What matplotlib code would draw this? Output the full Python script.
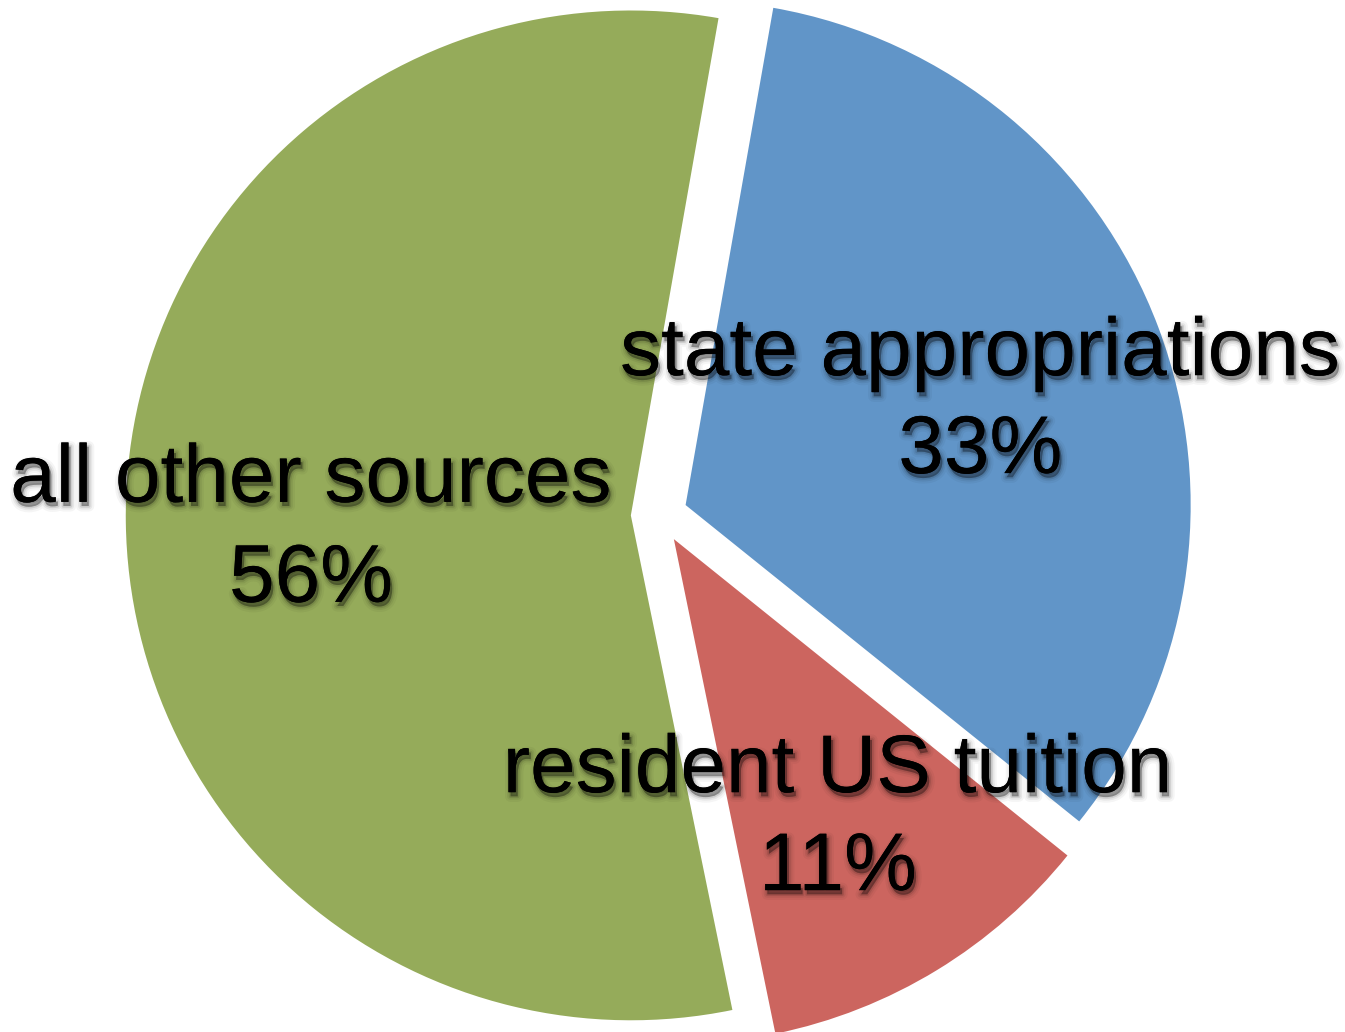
import matplotlib
matplotlib.use("Agg")
import matplotlib.pyplot as plt
import matplotlib.patheffects as pe

# Data
labels = ['state appropriations', 'resident US tuition', 'all other sources']
shares = [33, 11, 56]
colors = ['#6195C8', '#CC655F', '#95AB5A']

# label anchor points (data coords, radius = 1) for name line and percent line
label_xy = [(0.636, 0.277, 0.083), (0.354, -0.549, -0.743), (-0.689, 0.026, -0.172)]

plt.rcParams['font.family'] = ['Liberation Sans', 'DejaVu Sans']

fig = plt.figure(figsize=(13.45, 10.32), dpi=100)
ax = fig.add_axes([0, 0, 1, 1])

ax.pie(shares, colors=colors, startangle=80, counterclock=False,
       explode=[0.056] * len(shares), radius=1.0,
       wedgeprops=dict(linewidth=0))

# soft, blurred-looking shadow under the text
shadow = [
    pe.Stroke(linewidth=8, foreground='black', alpha=0.04, offset=(1.5, -3)),
    pe.Stroke(linewidth=5, foreground='black', alpha=0.06, offset=(1.5, -3)),
    pe.Stroke(linewidth=2.5, foreground='black', alpha=0.10, offset=(1.5, -3)),
    pe.withSimplePatchShadow(offset=(1.5, -3), shadow_rgbFace='black', alpha=0.2),
    pe.Normal(),
]

for name, pct, (x, y1, y2) in zip(labels, shares, label_xy):
    ax.text(x, y1, name, ha='center', va='baseline', fontsize=59,
            color='black', path_effects=shadow)
    ax.text(x, y2, f'{pct}%', ha='center', va='baseline', fontsize=59,
            color='black', path_effects=shadow)

ax.set_aspect('auto')
ax.set_xlim(-1.305, 1.358)
ax.set_ylim(-1.024, 1.020)
ax.axis('off')

fig.savefig('out.png', dpi=100, facecolor='white')
